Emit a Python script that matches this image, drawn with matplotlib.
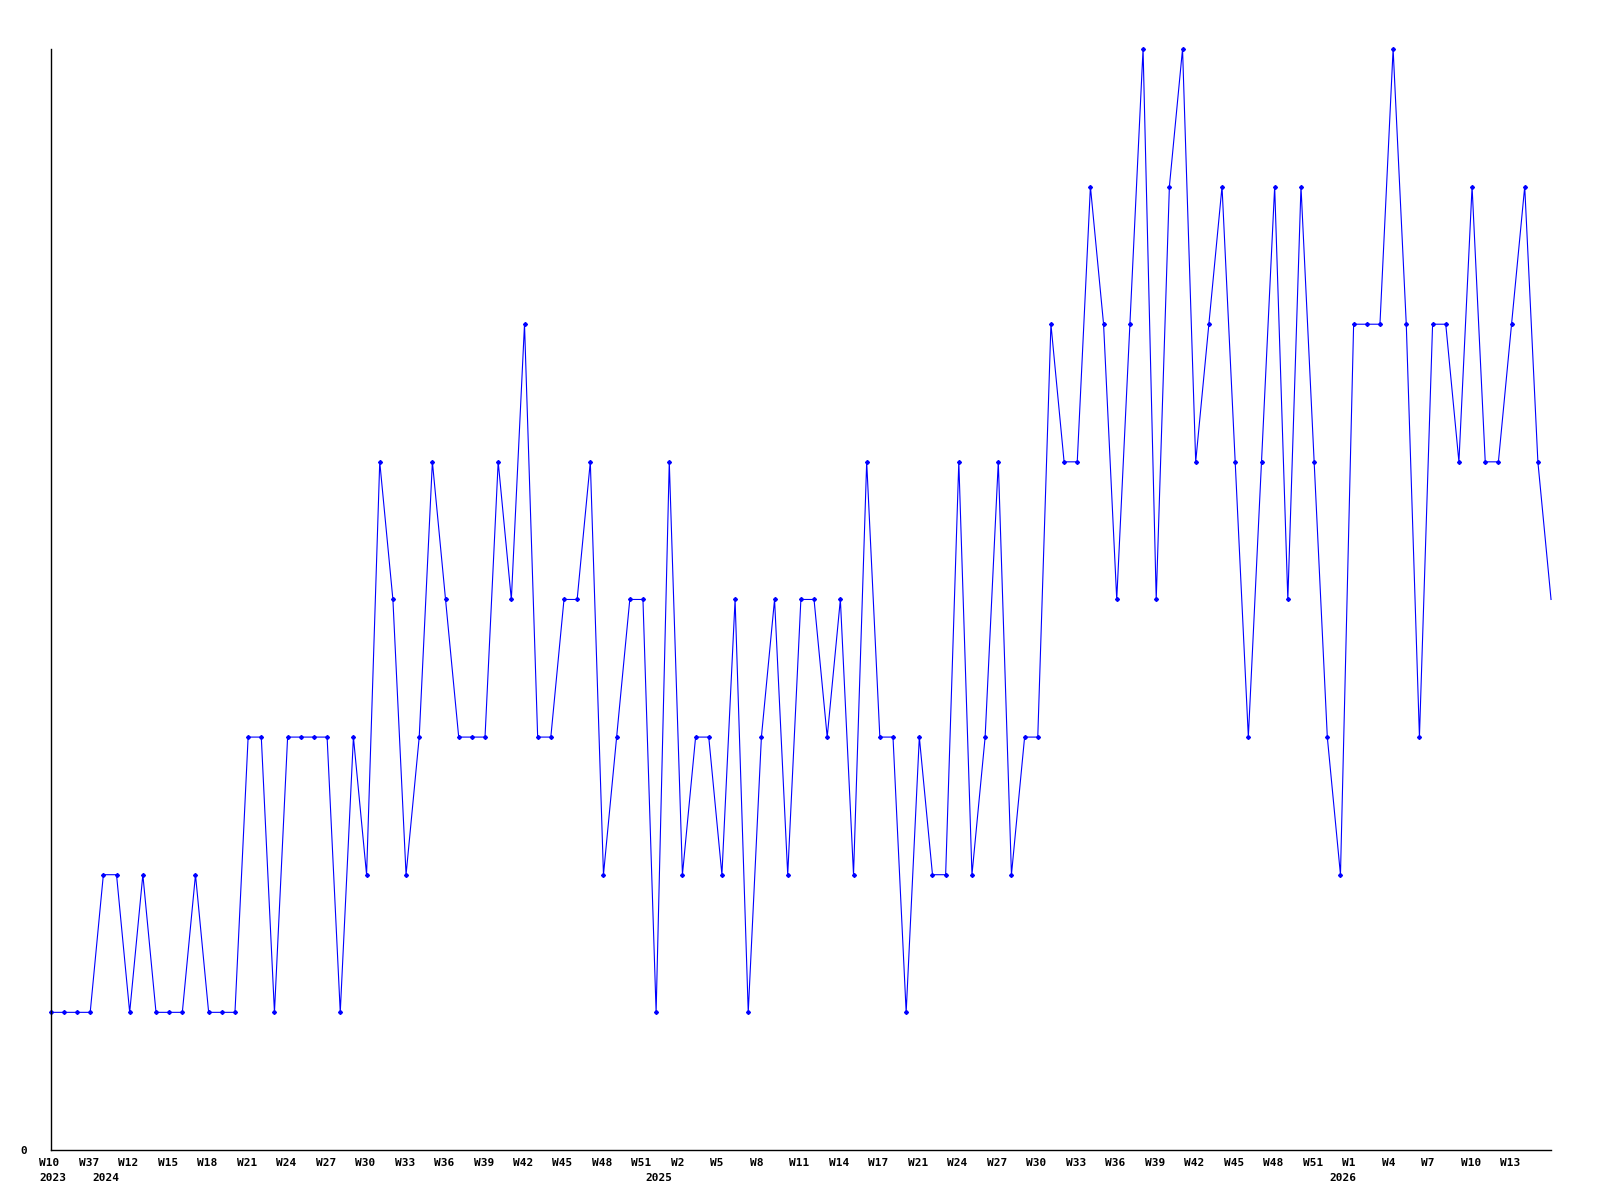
import matplotlib
matplotlib.use("Agg")
import matplotlib.pyplot as plt
from matplotlib.transforms import ScaledTranslation

# weekly counts
values = [1, 1, 1, 1, 2, 2, 1, 2, 1, 1, 1, 2, 1, 1, 1, 3, 3, 1, 3, 3,
          3, 3, 1, 3, 2, 5, 4, 2, 3, 5, 4, 3, 3, 3, 5, 4, 6, 3, 3, 4,
          4, 5, 2, 3, 4, 4, 1, 5, 2, 3, 3, 2, 4, 1, 3, 4, 2, 4, 4, 3,
          4, 2, 5, 3, 3, 1, 3, 2, 2, 5, 2, 3, 5, 2, 3, 3, 6, 5, 5, 7,
          6, 4, 6, 8, 4, 7, 8, 5, 6, 7, 5, 3, 5, 7, 4, 7, 5, 3, 2, 6,
          6, 6, 8, 6, 3, 6, 6, 5, 7, 5, 5, 6, 7, 5, 4]

week_labels = ["W10", "W37", "W12", "W15", "W18", "W21", "W24", "W27", "W30",
               "W33", "W36", "W39", "W42", "W45", "W48", "W51", "W2", "W5",
               "W8", "W11", "W14", "W17", "W21", "W24", "W27", "W30", "W33",
               "W36", "W39", "W42", "W45", "W48", "W51", "W1", "W4", "W7",
               "W10", "W13"]
years = ["2023", "2024", "2025", "2026"]
year_pos = [0, 3, 45, 97]

fig = plt.figure(figsize=(16, 12), dpi=100)
ax = fig.add_axes([0.0317, 0.0417, 0.9377, 0.9175])

x = list(range(len(values)))
ax.plot(x, values, color="#0000ff", linewidth=0.8, marker="D", markersize=2.0,
        markevery=list(range(len(values) - 1)), clip_on=False)

ax.set_xlim(0, len(values) - 1)
ax.set_ylim(0, 8)

for side in ["top", "right"]:
    ax.spines[side].set_visible(False)
for side in ["left", "bottom"]:
    ax.spines[side].set_linewidth(1.0)
    ax.spines[side].set_color("black")

font = dict(family="DejaVu Sans Mono", size=8, weight="bold")

ax.set_yticks([0])
ax.set_yticklabels(["0"], **font)
ax.tick_params(axis="y", length=0, pad=17)

ax.set_xticks(list(range(0, 3 * len(week_labels), 3)))
ax.set_xticklabels(week_labels, **font)
ax.tick_params(axis="x", length=0, pad=6)
shift = ScaledTranslation(-11.5 / 100, 0, fig.dpi_scale_trans)
for lbl in ax.get_xticklabels():
    lbl.set_horizontalalignment("left")
    lbl.set_transform(lbl.get_transform() + shift)

for yr, pos in zip(years, year_pos):
    dx = -11.5 if pos == 0 else 2
    ax.annotate(yr, xy=(pos, 0), xycoords=("data", "axes fraction"),
                xytext=(dx, -28), textcoords="offset pixels",
                ha="left", va="center", **font)

fig.savefig("out.png", dpi=100, facecolor="white")
